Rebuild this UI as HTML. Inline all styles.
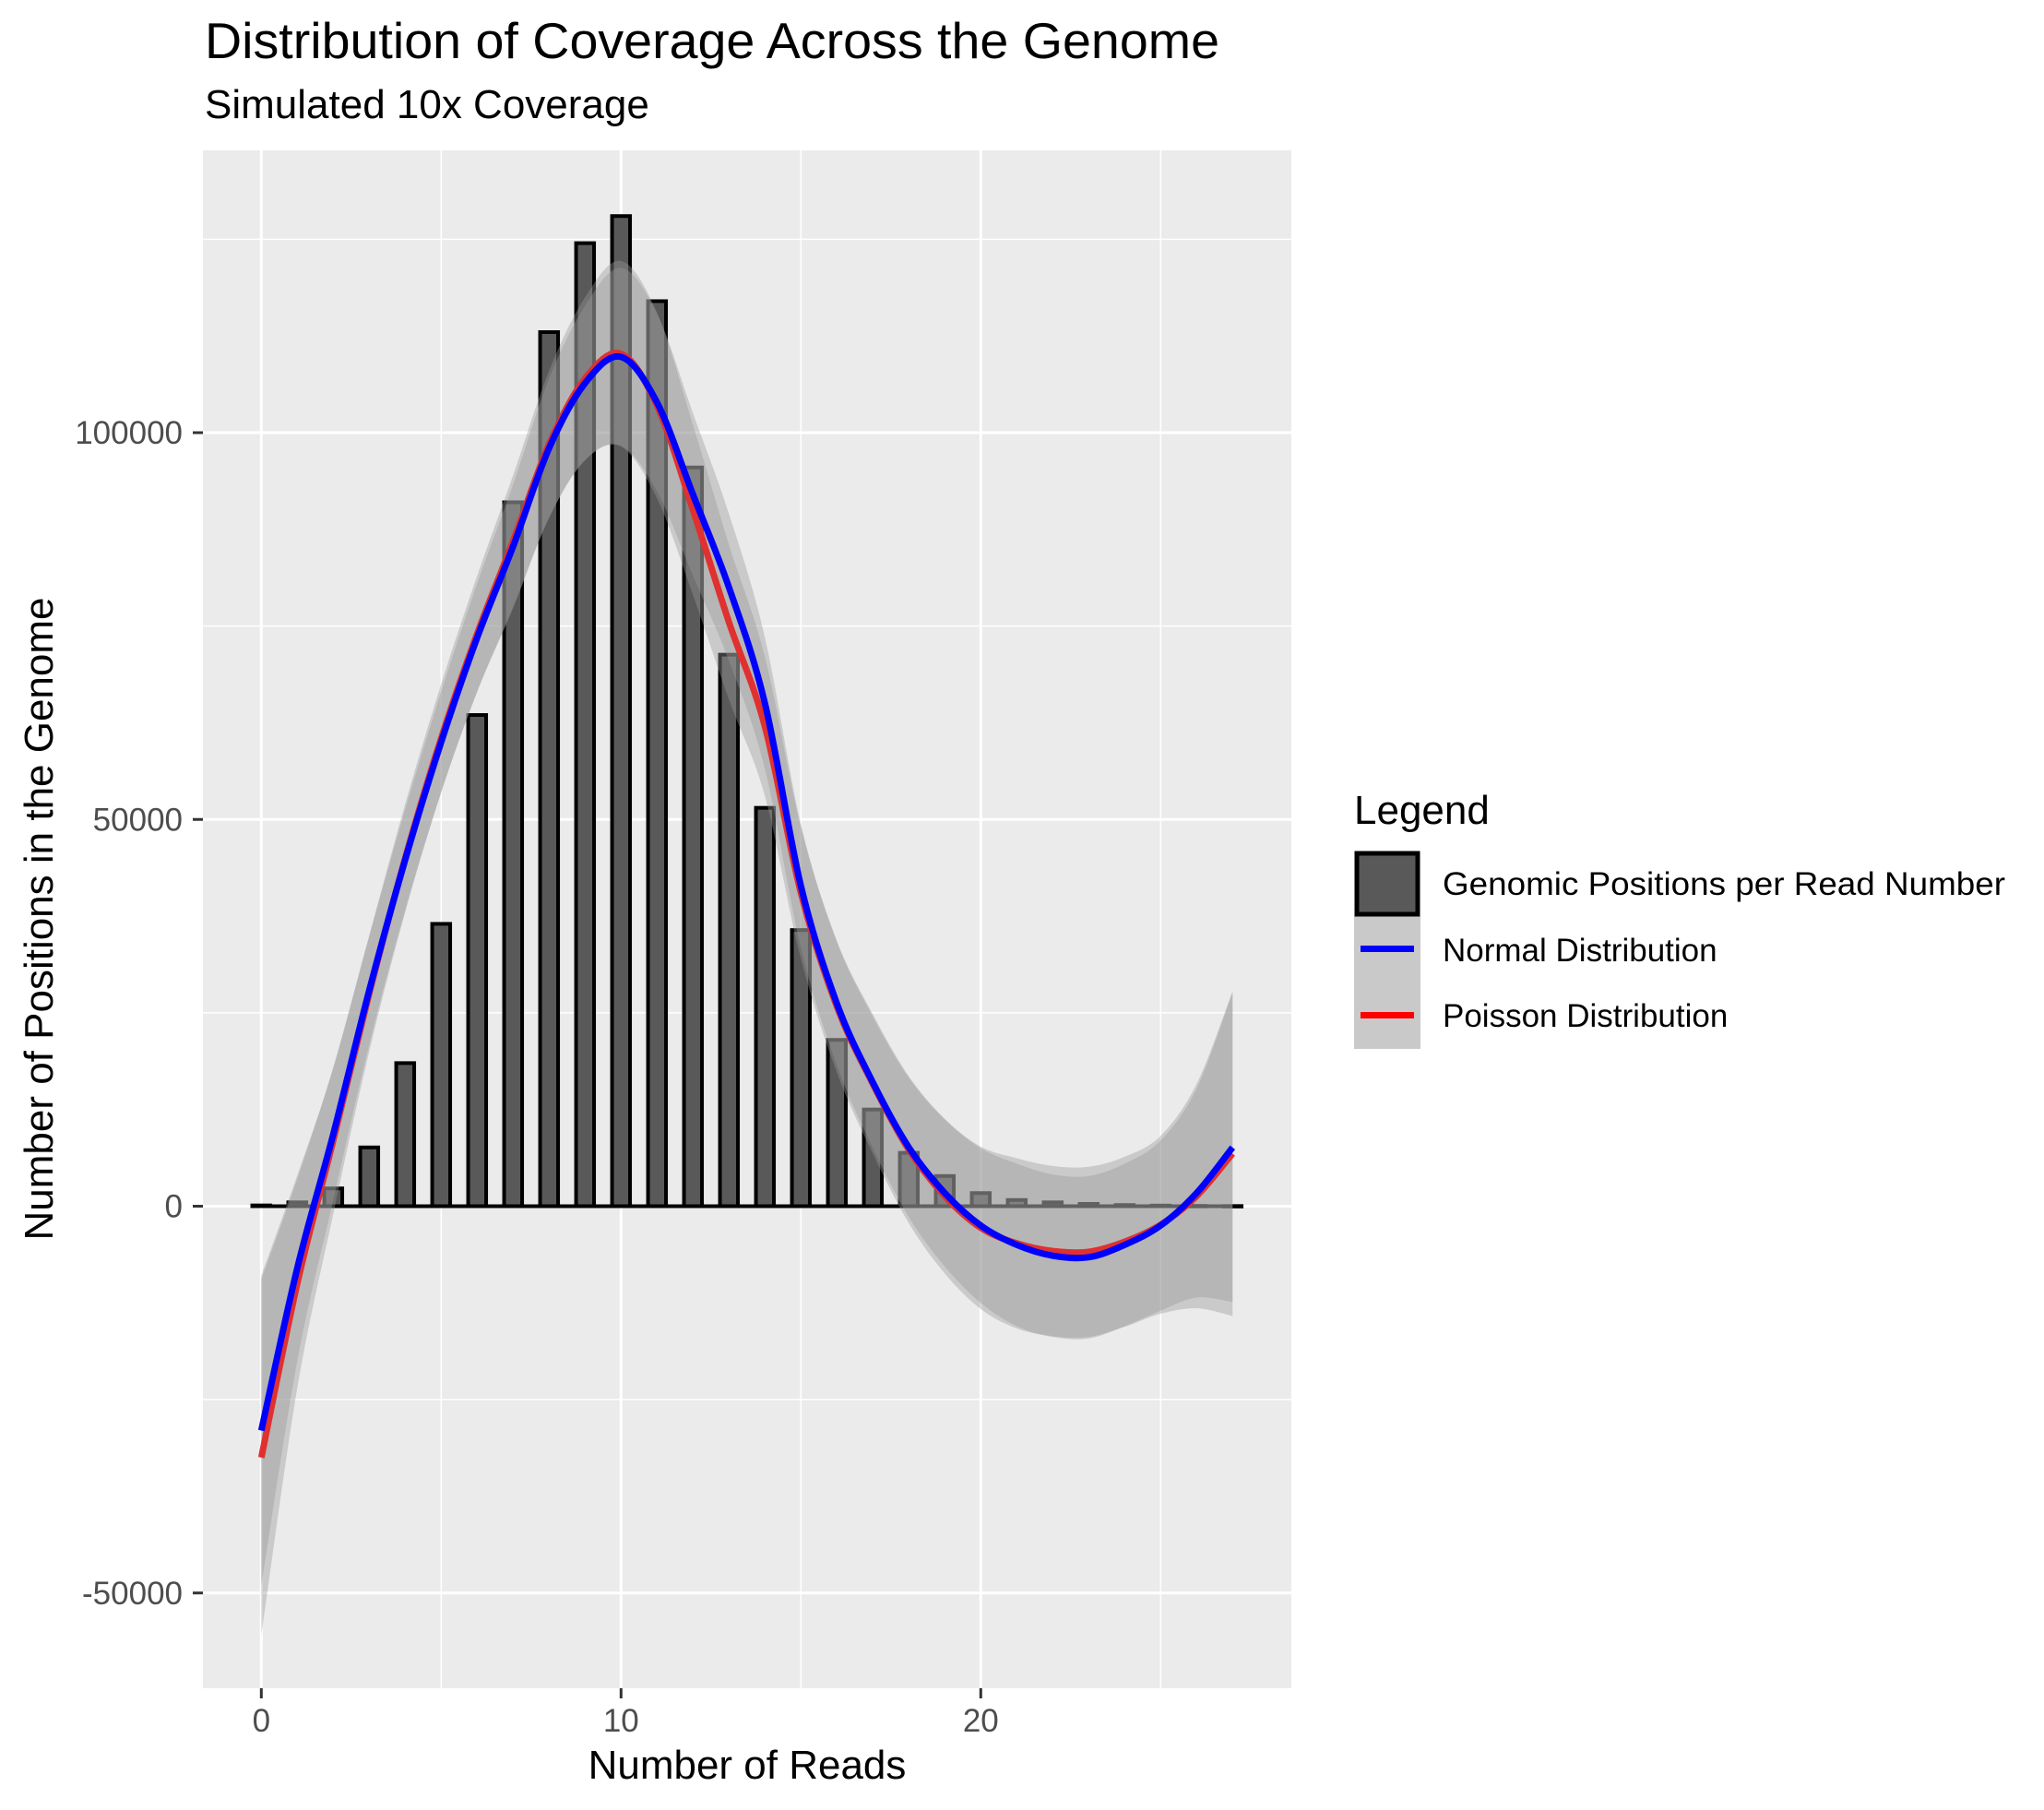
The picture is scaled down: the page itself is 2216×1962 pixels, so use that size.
<!DOCTYPE html>
<html><head><meta charset="utf-8"><style>
html,body{margin:0;padding:0;background:#fff;}
svg{display:block;font-family:"Liberation Sans",sans-serif;}
</style></head><body>
<svg id="chart" width="2216" height="1962" viewBox="0 0 2216 1962" xmlns="http://www.w3.org/2000/svg">
<text x="222" y="63" font-size="55" fill="#000" textLength="1100" lengthAdjust="spacingAndGlyphs">Distribution of Coverage Across the Genome</text>
<text x="222" y="128" font-size="44" fill="#000">Simulated 10x Coverage</text>
<rect x="220" y="163" width="1180" height="1667" fill="#ebebeb"/>
<g id="grid"></g>
<g id="bars"></g>
<g id="ribbons"></g>
<g id="lines"></g>
<g id="axes"></g>
<text x="810" y="1928" font-size="44" text-anchor="middle" fill="#000">Number of Reads</text>
<text transform="translate(57,996) rotate(-90)" font-size="44" text-anchor="middle" fill="#000">Number of Positions in the Genome</text>
<g>
<text x="1468" y="893" font-size="44" fill="#000">Legend</text>
<rect x="1468" y="993" width="72" height="144" fill="#c9c9c9"/>
<rect x="1471" y="925" width="66" height="66" fill="#595959" stroke="#000" stroke-width="5"/>
<rect x="1475" y="1025" width="58" height="7" fill="#0000ff"/>
<rect x="1475" y="1097" width="58" height="7" fill="#ff0000"/>
<text x="1564" y="970" font-size="35" fill="#000" textLength="610" lengthAdjust="spacingAndGlyphs">Genomic Positions per Read Number</text>
<text x="1564" y="1042" font-size="35" fill="#000">Normal Distribution</text>
<text x="1564" y="1113" font-size="35" fill="#000">Poisson Distribution</text>
</g>
</svg>
<script>
const reads = [0,1,2,3,4,5,6,7,8,9,10,11,12,13,14,15,16,17,18,19,20,21,22,23,24,25,26,27];
const counts = [100,500,2300,7600,18500,36500,63500,91000,113000,124500,128000,117000,95500,71300,51500,35700,21500,12500,6900,3900,1700,800,500,300,150,80,40,20];
const normalFit = [-29000,-8000,9300,27900,44800,60000,73500,85300,98000,106400,109800,103900,92000,80000,65000,41400,26200,16000,7600,1700,-2500,-5000,-6400,-6600,-5000,-2500,1700,7600];
const poissonFit = [-32500,-10000,8500,27500,45000,60500,74000,86000,98500,107000,110200,103500,90000,75500,62000,40500,25800,15800,7300,1300,-2800,-4800,-5800,-5900,-4600,-2400,1300,6800];
const normalSE = [20000,12000,8500,7000,6500,6500,7000,8000,9000,10000,11500,11500,10500,9500,8500,8000,8000,8500,9000,9500,10000,10500,10500,10500,10500,11000,13500,20000];
const poissonSE = [23000,13500,9500,7500,7000,7000,7500,8500,9500,10500,12000,12000,11000,10000,9000,8500,8500,9000,9500,10000,10500,11000,11000,11000,11000,11500,14500,21000];
const xTicks = [0,10,20];
const xMinor = [5,15,25];
const yTicks = [-50000,0,50000,100000];
const yMinor = [-25000,25000,75000,125000];
const yTickLabels = ["-50000","0","50000","100000"];

const NS="http://www.w3.org/2000/svg";
const PL=220, PR=1400, PT=163, PB=1830;
function X(v){return 283.3 + v*39;}
function Y(v){return 1307.5 - v*0.008385;}
function mk(tag, parent, attrs){const e=document.createElementNS(NS,tag);for(const k in attrs)e.setAttribute(k,attrs[k]);document.getElementById(parent).appendChild(e);return e;}

yMinor.forEach(v=>{const e=mk('line','grid',{x1:PL,x2:PR,y1:Y(v),y2:Y(v),stroke:'#fff','stroke-width':1.5});

});
xMinor.forEach(v=>{const e=mk('line','grid',{x1:X(v),x2:X(v),y1:PT,y2:PB,stroke:'#fff','stroke-width':1.5});

});
yTicks.forEach(v=>{const e=mk('line','grid',{x1:PL,x2:PR,y1:Y(v),y2:Y(v),stroke:'#fff','stroke-width':3});

});
xTicks.forEach(v=>{const e=mk('line','grid',{x1:X(v),x2:X(v),y1:PT,y2:PB,stroke:'#fff','stroke-width':3});

});

const bw=0.5;
const base=mk('line','bars',{x1:X(reads[0]-0.3),x2:X(reads[reads.length-1]+0.3),y1:Y(0),y2:Y(0),stroke:'#000','stroke-width':4});


reads.forEach((r,i)=>{const y0=Y(0),y1=Y(counts[i]);
const e=mk('rect','bars',{x:X(r-bw/2),y:Math.min(y0,y1),width:bw*39,height:Math.max(Math.abs(y0-y1),0.5),fill:'#595959',stroke:'#000','stroke-width':4});

});

function curve(p){let d='';
for(let i=0;i<p.length-1;i++){const p0=p[Math.max(i-1,0)],p1=p[i],p2=p[i+1],p3=p[Math.min(i+2,p.length-1)];
d+=' C'+(p1[0]+(p2[0]-p0[0])/6)+','+(p1[1]+(p2[1]-p0[1])/6)+' '+(p2[0]-(p3[0]-p1[0])/6)+','+(p2[1]-(p3[1]-p1[1])/6)+' '+p2[0]+','+p2[1];}
return d;}
function ribbon(fit,se,name){const up=reads.map((r,i)=>[X(r),Y(fit[i]+se[i])]);const lo=reads.map((r,i)=>[X(r),Y(fit[i]-se[i])]).reverse();
const d='M'+up[0][0]+','+up[0][1]+curve(up)+' L'+lo[0][0]+','+lo[0][1]+curve(lo)+' Z';
const e=mk('path','ribbons',{d:d,fill:'#999999','fill-opacity':0.4});

}
ribbon(poissonFit,poissonSE,'poisson-confidence-band');
ribbon(normalFit,normalSE,'normal-confidence-band');

function smoothPath(fit){const p=reads.map((r,i)=>[X(r),Y(fit[i])]);return 'M'+p[0][0]+','+p[0][1]+curve(p);}
const pl=mk('path','lines',{d:smoothPath(poissonFit),fill:'none',stroke:'#e03030','stroke-width':7});


const nl=mk('path','lines',{d:smoothPath(normalFit),fill:'none',stroke:'#0000ff','stroke-width':7});



xTicks.forEach(v=>{const t=mk('line','axes',{x1:X(v),x2:X(v),y1:PB,y2:PB+11,stroke:'#333','stroke-width':3});


const l=mk('text','axes',{x:X(v),y:1877,'font-size':35,'text-anchor':'middle',fill:'#4d4d4d'});l.textContent=v;

});
yTicks.forEach((v,i)=>{const t=mk('line','axes',{x1:PL-11,x2:PL,y1:Y(v),y2:Y(v),stroke:'#333','stroke-width':3});


const l=mk('text','axes',{x:198,y:Y(v)+12,'font-size':35,'text-anchor':'end',fill:'#4d4d4d'});l.textContent=yTickLabels[i];

});
</script>
</body></html>
